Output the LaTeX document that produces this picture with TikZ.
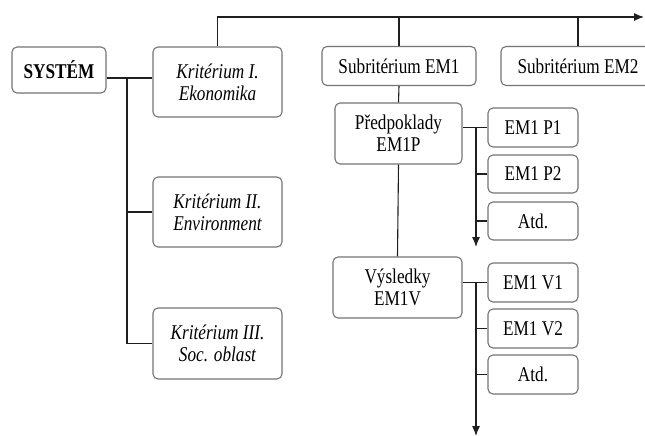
\documentclass[tikz,border=0pt]{standalone}
\usepackage{fontspec}
\setmainfont{Liberation Serif}[FakeStretch=0.82]
\usepackage{tikz}
\usetikzlibrary{arrows.meta}
\usetikzlibrary{positioning}
\definecolor{mframe}{rgb}{0.45, 0.45, 0.45}
\definecolor{mline}{rgb}{0.12, 0.12, 0.12}

\begin{document}
\begin{tikzpicture}[x=1pt, y=-1pt,
    box/.style={draw=mframe, line width=1.1pt, rounded corners=5pt, align=center,
      inner sep=0pt, font=\fontsize{21}{22}\selectfont},
    link/.style={draw=mline, line width=1.1pt},
    tip/.style={-{Latex[length=10pt, width=8pt]}}]
      \useasboundingbox (0, 0) rectangle (645, 436);
      \clip (0, 0) rectangle (645, 436);

      \node [box, minimum width=94pt, minimum height=46pt] (sys) at (59, 70) {\textbf{SYSTÉM}};
      \node [box, minimum width=129pt, minimum height=70pt] (k1) at (217.5, 82) {\itshape Kritérium I.\\\itshape Ekonomika};
      \node [box, minimum width=129pt, minimum height=70pt] (k2) at (217.5, 212) {\itshape Kritérium II.\\\itshape Environment};
      \node [box, minimum width=129pt, minimum height=71pt] (k3) at (217.5, 343.5) {\itshape Kritérium III.\\\itshape Soc. oblast};

      \node [box, minimum width=154pt, minimum height=39pt] (s1) at (399, 66) {Subritérium EM1};
      \node [box, minimum width=154pt, minimum height=39pt] (s2) at (578, 66) {Subritérium EM2};

      \node [box, minimum width=127pt, minimum height=61pt] (pred) at (398.5, 133.5) {Předpoklady\\EM1P};
      \node [box, minimum width=129pt, minimum height=61pt] (vys) at (397.5, 287.5) {Výsledky\\EM1V};

      \node [box, minimum width=90pt, minimum height=39pt] (p1) at (533, 127.5) {EM1 P1};
      \node [box, minimum width=90pt, minimum height=38pt] (p2) at (533, 174) {EM1 P2};
      \node [box, minimum width=90pt, minimum height=38pt] (pa) at (533, 221) {Atd.};

      \node [box, minimum width=90pt, minimum height=39pt] (v1) at (533, 282.5) {EM1 V1};
      \node [box, minimum width=90pt, minimum height=39pt] (v2) at (533, 328.5) {EM1 V2};
      \node [box, minimum width=90pt, minimum height=39pt] (va) at (533, 374.5) {Atd.};

      \coordinate (jsys) at (127, 78);
      \coordinate (topend) at (644, 17);
      \coordinate (pend) at (476, 247);
      \coordinate (vend) at (476, 436);

      \draw [link] (sys.east |- jsys) -- (k1.west |- jsys);
      \draw [link] (jsys) |- (k2.west);
      \draw [link] (jsys) |- (k3.west);

      \draw [link, tip] (k1.north) |- (topend);
      \draw [link] (s1.north) -- (s1.north |- topend);
      \draw [link] (s2.north) -- (s2.north |- topend);

      \draw [link] (s1.south) -- (pred.north);
      \draw [link] (pred.south) -- (vys.north);

      \draw [link] (pred.east |- p1.west) -- (p1.west);
      \draw [link, tip] (pend |- p1.west) -- (pend);
      \draw [link] (pend |- p2.west) -- (p2.west);
      \draw [link] (pend |- pa.west) -- (pa.west);

      \draw [link] (vys.east |- v1.west) -- (v1.west);
      \draw [link, tip] (vend |- v1.west) -- (vend);
      \draw [link] (vend |- v2.west) -- (v2.west);
      \draw [link] (vend |- va.west) -- (va.west);
    \end{tikzpicture}
\end{document}
